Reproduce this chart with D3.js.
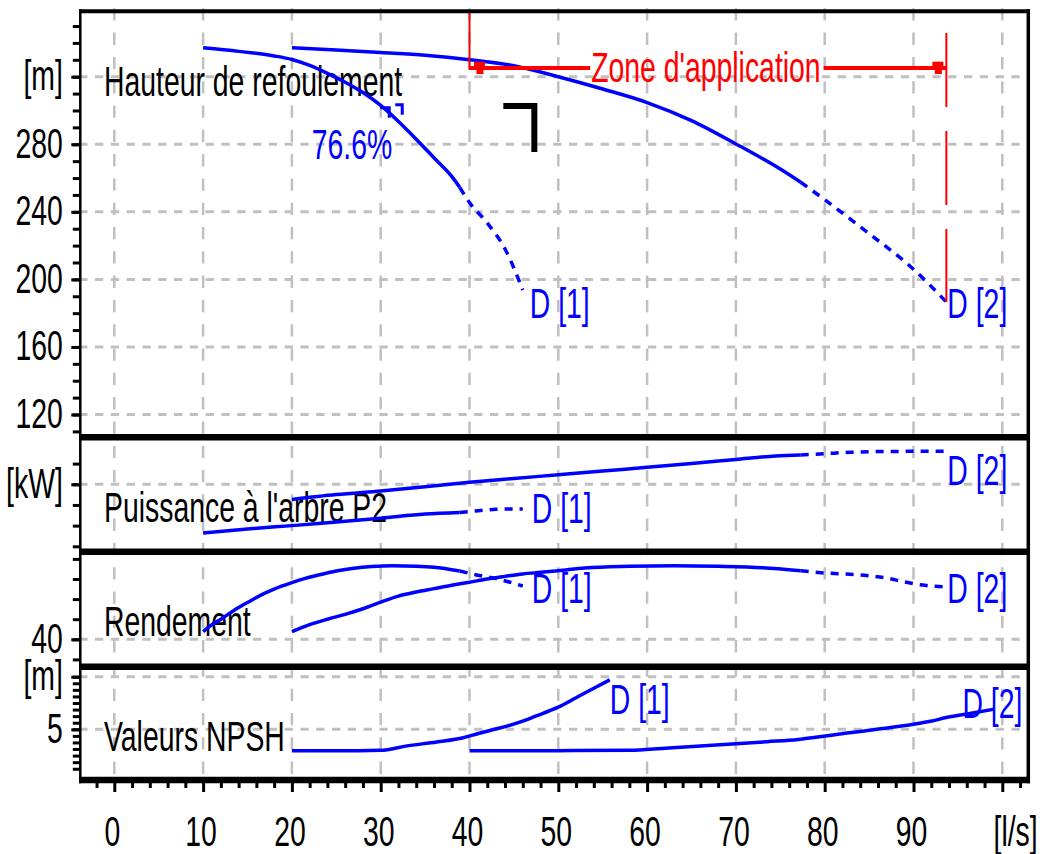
<!DOCTYPE html>
<html>
<head>
<meta charset="utf-8">
<script src="https://cdn.jsdelivr.net/npm/d3@7"></script>
<style>
  html, body { margin: 0; padding: 0; background: #fff; }
  svg { display: block; }
</style>
</head>
<body>
<svg id="chart" width="1040" height="854"></svg>
<script>
// ---------------------------------------------------------------
// Pump characteristic curves, two variants D [1] and D [2]
// Flow rate Q in l/s on the shared horizontal axis.
// ---------------------------------------------------------------

// Flow axis
const flowTicks = [0, 10, 20, 30, 40, 50, 60, 70, 80, 90, 100];
const flowTickLabels = ["0", "10", "20", "30", "40", "50", "60", "70", "80", "90", "[l/s]"];

// Panel titles
const panelTitles = ["Hauteur de refoulement", "Puissance à l'arbre P2", "Rendement", "Valeurs NPSH"];
const seriesNames = ["D [1]", "D [2]"];

// Head H (m)
const headGrid = [120, 160, 200, 240, 280, 320];
const headTickLabels = ["120", "160", "200", "240", "280", "[m]"];
const headD1 = [[10, 337.1], [14, 335.0], [18, 332.3], [20, 330.2], [22, 326.7], [24, 322.0],
                [26, 316.7], [28, 310.6], [30, 303.0], [32, 293.5], [34, 283.0], [36, 272.0],
                [38, 261.0], [38.9, 254.5], [40, 245.5], [42, 233.4], [44, 218.0], [46, 193.7]];
const headD2 = [[20, 337.1], [25, 335.8], [30, 334.3], [35, 332.7], [40, 330.1], [45, 326.5],
                [50, 320.0], [55, 312.7], [60, 304.7], [65, 294.0], [70, 280.2], [75, 265.3],
                [77.3, 257.5], [80, 247.2], [85, 227.1], [90, 206.0], [93.7, 186.6]];

// Shaft power P2 (kW)
const powerGrid = [200];
const powerTickLabels = ["[kW]"];
const powerD1 = [[10, 82], [15, 92], [20, 100], [25, 109], [30, 118], [35, 128], [38.9, 132],
                 [41, 136], [43, 139.5], [46, 140.5]];
const powerD2 = [[20, 163], [25, 175], [30, 184], [35, 194], [40, 205], [45, 214], [50, 223],
                 [55, 232], [60, 241], [65, 250], [70, 260], [74.5, 268.5], [77.3, 271],
                 [80, 274], [83, 277.5], [88, 279.5], [93.7, 280]];

// Efficiency (%)
const effGrid = [40];
const effTickLabels = ["40"];
const effD1 = [[10, 43.8], [11, 47.3], [12, 50], [13.5, 54.5], [15, 58.3], [16.5, 62], [18, 65],
               [20, 68.2], [21.5, 70.3], [23, 72], [25, 74], [27, 75.4], [29, 76.2], [31.3, 76.6],
               [34, 76.4], [36, 75.9], [38.9, 74], [40.5, 72.3], [43, 70.2], [46, 66.5]];
const effD2 = [[20, 43.8], [22, 47.3], [24, 50], [26, 52.4], [28, 55.2], [30, 58.5], [32, 61.5],
               [34, 63.5], [36, 65.2], [38, 66.9], [40, 68.4], [42, 70], [44, 71.3], [46, 72.5],
               [48, 73.3], [50, 74.1], [53, 75.5], [58, 76.3], [63, 76.6], [68, 76.3], [73, 75.6],
               [77.3, 74.1], [80, 73], [84, 72], [87, 70.5], [89, 68.5], [91, 67], [93.7, 66]];

// NPSH required (m)
const npshGrid = [5, 10];
const npshTickLabels = ["5", "[m]"];
const npshD1 = [[20, 2.95], [25, 2.95], [30, 3.0], [32.8, 3.4], [36.3, 3.8], [39.3, 4.2], [41, 4.6],
                [42.8, 5.0], [44.6, 5.4], [46.4, 5.9], [48.2, 6.5], [50, 7.1], [52, 8.0], [54, 8.9],
                [55.8, 9.7]];
const npshD2 = [[40, 2.95], [50, 2.97], [58, 3.0], [62, 3.2], [66, 3.41], [70, 3.62], [73.5, 3.82],
                [77, 4.03], [79, 4.24], [82.3, 4.62], [85.9, 5.0], [89.3, 5.38], [91.9, 5.76],
                [93.8, 6.14], [96.5, 6.52], [99, 6.9]];

// End of the recommended operating range of each variant (l/s); dashed beyond
const solidLimit = [38.9, 77.3];

// Application range and duty point
const zoneRange = [40, 93.7];
const zoneLabel = "Zone d'application";
const dutyPoint = [47.3, 302.6];

// ---------------------------------------------------------------
// Drawing
// ---------------------------------------------------------------
const svg = d3.select("#chart");
const FONT = "'Liberation Sans', Arial, Helvetica, sans-serif";
const FS = 43, SX = 0.66;
const BLUE = "#0000ff", RED = "#ff0000", GRID = "#c0c0c0";

const frame = { left: 80.3, right: 1028.3, top: 11.3, bottom: 780 };
const x = d3.scaleLinear().domain([0, 100]).range([114.3, 1002.3]);

function label(g, str, px, py, anchor, color) {
  return g.append("text")
    .attr("transform", `translate(${px},${py}) scale(${SX},1)`)
    .attr("text-anchor", anchor || "start")
    .attr("fill", color || "#000")
    .style("font-family", FONT)
    .style("font-size", FS + "px")
    .text(str);
}

const panels = [
  { title: panelTitles[0], top: 11.3, bottom: 437.3,
    y: d3.scaleLinear().domain([120, 320]).range([414.5, 76.7]),
    minor: d3.range(110, 351, 10), grid: headGrid, tickLabels: headTickLabels,
    series: [headD1, headD2], limits: solidLimit,
    labelPos: [[7, 28, "start"], [1, 16, "start"]] },
  { title: panelTitles[1], top: 437.3, bottom: 551.7,
    y: d3.scaleLinear().domain([50, 250]).range([546.3, 463.6]),
    minor: d3.range(50, 251, 50), grid: powerGrid, tickLabels: powerTickLabels,
    series: [powerD1, powerD2], limits: solidLimit,
    labelPos: [[9, 14, "start"], [1, 34, "start"]] },
  { title: panelTitles[2], top: 551.7, bottom: 666.7,
    y: d3.scaleLinear().domain([30, 80]).range([659.4, 558.9]),
    minor: d3.range(30, 81, 10), grid: effGrid, tickLabels: effTickLabels,
    series: [effD1, effD2], limits: solidLimit,
    labelPos: [[9, 17, "start"], [1, 16, "start"]] },
  { title: panelTitles[3], top: 666.7, bottom: 780,
    y: d3.scaleLinear().domain([5, 10]).range([729.3, 676.7]),
    minor: d3.range(1.25, 10.01, 0.625), grid: npshGrid, tickLabels: npshTickLabels,
    series: [npshD1, npshD2], limits: [Infinity, Infinity],
    labelPos: [[0, 34, "start"], [29, 9, "end"]] }
];

svg.append("rect").attr("width", 1040).attr("height", 854).attr("fill", "#fff");

// Grid
const gGrid = svg.append("g");
gGrid.selectAll("line.v").data(flowTicks).join("line")
  .attr("x1", d => x(d)).attr("x2", d => x(d))
  .attr("y1", 8.3).attr("y2", frame.bottom)
  .attr("stroke", GRID).attr("stroke-width", 2.5)
  .attr("stroke-dasharray", "12.3,12");
panels.forEach(p => {
  gGrid.selectAll(null).data(p.grid).join("line")
    .attr("x1", 79.2).attr("x2", frame.right)
    .attr("y1", d => p.y(d)).attr("y2", d => p.y(d))
    .attr("stroke", GRID).attr("stroke-width", 3)
    .attr("stroke-dasharray", "8.3,7.5");
});

// Panel titles
const gTitles = svg.append("g");
panels.forEach(p => label(gTitles, p.title, 104, p.top + 84.5));

// Curves
const gCurves = svg.append("g");
panels.forEach(p => {
  const line = d3.line().x(d => x(d[0])).y(d => p.y(d[1])).curve(d3.curveMonotoneX);
  p.series.forEach((data, i) => {
    const lim = p.limits[i];
    const solid = data.filter(d => d[0] <= lim);
    const dashed = data.filter(d => d[0] >= lim);
    gCurves.append("path").attr("d", line(solid))
      .attr("fill", "none").attr("stroke", BLUE).attr("stroke-width", 3.5);
    if (dashed.length > 1) {
      gCurves.append("path").attr("d", line(dashed))
        .attr("fill", "none").attr("stroke", BLUE).attr("stroke-width", 3.5)
        .attr("stroke-dasharray", "8,7");
    }
    const end = data[data.length - 1];
    const [dx, dy, anchor] = p.labelPos[i];
    label(gCurves, seriesNames[i], x(end[0]) + dx, p.y(end[1]) + dy, anchor, BLUE);
  });
});

// Best efficiency point of D [1]
const yHead = panels[0].y;
const bep = effD1.reduce((a, b) => (b[1] > a[1] ? b : a));
const headAt = d3.scaleLinear().domain(headD1.map(d => d[0])).range(headD1.map(d => d[1]));
const bx = x(bep[0]), by = yHead(headAt(bep[0]));
gCurves.append("path")
  .attr("d", `M${bx - 12},${by - 8}H${bx - 3}V${by + 2}M${bx + 3},${by - 11}H${bx + 10}V${by - 1}`)
  .attr("fill", "none").attr("stroke", BLUE).attr("stroke-width", 3);
label(gCurves, bep[1].toFixed(1) + "%", bx, by + 43, "end", BLUE);

// Duty point corner marker
const dx0 = x(dutyPoint[0]), dy0 = yHead(dutyPoint[1]);
gCurves.append("path")
  .attr("d", `M${dx0 - 31},${dy0}H${dx0}V${dy0 + 46}`)
  .attr("fill", "none").attr("stroke", "#000").attr("stroke-width", 6)
  .attr("stroke-linejoin", "miter").attr("stroke-linecap", "butt");

// Application range
const gZone = svg.append("g");
const zx0 = x(zoneRange[0]), zx1 = x(zoneRange[1]);
const zy = 68;
gZone.append("line").attr("x1", zx0).attr("x2", zx0).attr("y1", frame.top).attr("y2", zy + 2)
  .attr("stroke", RED).attr("stroke-width", 2);
gZone.append("line").attr("x1", zx1).attr("x2", zx1)
  .attr("y1", 33).attr("y2", yHead(headD2[headD2.length - 1][1]))
  .attr("stroke", RED).attr("stroke-width", 2).attr("stroke-dasharray", "74,24");
const zt = label(gZone, zoneLabel, (zx0 + zx1) / 2 - 2, 81.7, "middle", RED);
const half = zt.node().getComputedTextLength() * SX / 2;
const zmid = (zx0 + zx1) / 2 - 2;
gZone.append("line").attr("x1", zx0).attr("x2", zmid - half - 1).attr("y1", zy).attr("y2", zy)
  .attr("stroke", RED).attr("stroke-width", 4);
gZone.append("line").attr("x1", zmid + half + 3).attr("x2", zx1).attr("y1", zy).attr("y2", zy)
  .attr("stroke", RED).attr("stroke-width", 4);
// arrow heads
[[zx0 + 10, 1], [zx1 - 8.5, -1]].forEach(([ax]) => {
  gZone.append("rect").attr("x", ax - 5.5).attr("y", zy - 6.3).attr("width", 11).attr("height", 6)
    .attr("fill", RED);
  gZone.append("rect").attr("x", ax - 3).attr("y", zy + 1).attr("width", 7).attr("height", 5)
    .attr("fill", RED);
});

// Frame and panel separators
const gFrame = svg.append("g");
gFrame.append("line").attr("x1", 79).attr("x2", 1030).attr("y1", frame.top).attr("y2", frame.top)
  .attr("stroke", "#000").attr("stroke-width", 4);
gFrame.append("line").attr("x1", frame.left).attr("x2", frame.left).attr("y1", 9.3).attr("y2", 783.3)
  .attr("stroke", "#000").attr("stroke-width", 2.5);
gFrame.append("line").attr("x1", frame.right).attr("x2", frame.right).attr("y1", 9.3).attr("y2", 783.3)
  .attr("stroke", "#000").attr("stroke-width", 3.5);
gFrame.selectAll(null).data(panels).join("line")
  .attr("x1", 79).attr("x2", 1030)
  .attr("y1", p => p.bottom).attr("y2", p => p.bottom)
  .attr("stroke", "#000").attr("stroke-width", 6.5);

// Left axes
panels.forEach(p => {
  const gMinor = svg.append("g").attr("transform", `translate(${frame.left},0)`)
    .call(d3.axisLeft(p.y).tickValues(p.minor).tickSize(7.5).tickFormat(""));
  gMinor.select(".domain").remove();
  gMinor.selectAll("line").attr("stroke", "#000").attr("stroke-width", 3);

  const gMajor = svg.append("g").attr("transform", `translate(${frame.left},0)`)
    .call(d3.axisLeft(p.y).tickValues(p.grid).tickSize(9)
      .tickFormat((d, i) => p.tickLabels[i]));
  gMajor.select(".domain").remove();
  gMajor.selectAll("line").attr("stroke", "#000").attr("stroke-width", 3);
  gMajor.selectAll("text")
    .attr("x", null).attr("dy", null).attr("y", null)
    .attr("transform", `translate(-17.5,13) scale(${SX},1)`)
    .attr("text-anchor", "end").attr("fill", "#000")
    .style("font-family", FONT).style("font-size", FS + "px");
});

// Bottom axis
const axisY = 781.5;
const gxMinor = svg.append("g").attr("transform", `translate(0,${axisY})`)
  .call(d3.axisBottom(x).tickValues(d3.range(-2, 103, 2).filter(d => d % 10 !== 0))
    .tickSize(6.5).tickFormat(""));
gxMinor.select(".domain").remove();
gxMinor.selectAll("line").attr("stroke", "#000").attr("stroke-width", 3);

const gx = svg.append("g").attr("transform", `translate(0,${axisY})`)
  .call(d3.axisBottom(x).tickValues(flowTicks).tickSize(10.5)
    .tickFormat((d, i) => flowTickLabels[i]));
gx.select(".domain").remove();
gx.selectAll("line").attr("stroke", "#000").attr("stroke-width", 3);
gx.selectAll("text")
  .attr("y", null).attr("dy", null)
  .attr("transform", (d, i) => i === flowTicks.length - 1
      ? `translate(-9.3,64.5) scale(${SX},1)`
      : `translate(-2.5,64.5) scale(${SX},1)`)
  .attr("text-anchor", (d, i) => i === flowTicks.length - 1 ? "start" : "middle")
  .attr("fill", "#000")
  .style("font-family", FONT).style("font-size", FS + "px");
</script>
</body>
</html>
